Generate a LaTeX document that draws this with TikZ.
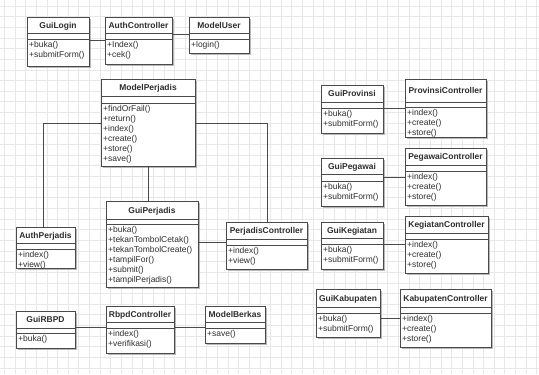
\documentclass[tikz,border=0pt]{standalone}
\usepackage{fontspec}
\setmainfont{Liberation Sans}
\definecolor{gridc}{HTML}{E8E8E8}
\definecolor{edgec}{HTML}{4A4A4A}
\definecolor{textc}{HTML}{2E2E2E}
\definecolor{shadowc}{HTML}{B8B8B8}
\tikzset{
  gridline/.style={draw=gridc, line width=0.8bp},
  classbox/.style={draw=edgec, fill=white, line width=0.9bp, inner sep=0pt, anchor=north west},
  sepline/.style={draw=edgec, line width=0.9bp},
  assoc/.style={draw=edgec, line width=0.9bp},
  classtitle/.style={font=\fontsize{8.5}{10}\selectfont\bfseries, text=textc, inner sep=0pt, anchor=base},
  member/.style={font=\fontsize{8.5}{10}\selectfont, text=textc, inner sep=0pt, anchor=base west},
}
% \umlclass{name}{x1}{y1}{x2}{y2}{header bottom}{attribute bottom}{title}{operations}
\newcommand\umlclass[9]{%
  \fill[shadowc] (#2+1.5,#3+1.5) rectangle (#4+1.5,#5+1.5);
  \node[classbox, minimum width={(#4-#2)*1bp}, minimum height={(#5-#3)*1bp}] (#1) at (#2,#3) {};
  \draw[sepline] (#2,#6) -- (#4,#6);
  \draw[sepline] (#2,#7) -- (#4,#7);
  \node[classtitle] at ({(#2+#4)/2},{(#3+#6)/2+3}) {#8};
  \foreach \m [count=\i from 0] in {#9}
    \node[member] at (#2+2,{#7+8.8+10*\i}) {\m};
}
\begin{document}
\begin{tikzpicture}[x=1bp,y=-1bp]
\useasboundingbox (0,0) rectangle (539,374);
\fill[white] (0,0) rectangle (539,374);
% background grid
\foreach \k in {0,...,50}
  \draw[gridline] ({4.3+10.65*\k},0) -- ++(0,374);
\foreach \k in {0,...,35}
  \draw[gridline] (0,{6+10.65*\k}) -- ++(539,0);

% login group
\umlclass{GuiLogin}{27}{17}{89}{66}{33}{39}{GuiLogin}{+buka(),+submitForm()}
\umlclass{AuthController}{105}{17}{172}{64}{33}{39}{AuthController}{+Index(),+cek()}
\umlclass{ModelUser}{189}{17}{249}{53}{33}{39}{ModelUser}{+login()}

% perjadis group
\umlclass{ModelPerjadis}{101}{79}{195}{166}{96}{103}{ModelPerjadis}{+findOrFail(),+return(),+index(),+create(),+store(),+save()}
\umlclass{AuthPerjadis}{16}{227}{75}{268}{243}{249}{AuthPerjadis}{+index(),+view()}
\umlclass{GuiPerjadis}{106}{201}{198}{287}{219}{224}{GuiPerjadis}{+buka(),+tekanTombolCetak(),+tekanTombolCreate(),+tampilFor(),+submit(),+tampilPerjadis()}
\umlclass{PerjadisController}{226}{222}{307}{269}{239}{245}{PerjadisController}{+index(),+view()}

% rbpd group
\umlclass{GuiRBPD}{16}{311}{75}{348}{328}{333}{GuiRBPD}{+buka()}
\umlclass{RbpdController}{106}{306}{174}{353}{322}{328}{RbpdController}{+index(),+verifikasi()}
\umlclass{ModelBerkas}{205}{306}{265}{343}{322}{328}{ModelBerkas}{+save()}

% master data group
\umlclass{GuiProvinsi}{321}{85}{383}{133}{102}{108}{GuiProvinsi}{+buka(),+submitForm()}
\umlclass{ProvinsiController}{405}{79}{486}{137}{102}{107}{ProvinsiController}{+index(),+create(),+store()}
\umlclass{GuiPegawai}{321}{158}{383}{206}{174}{181}{GuiPegawai}{+buka(),+submitForm()}
\umlclass{PegawaiController}{405}{148}{486}{205}{165}{171}{PegawaiController}{+index(),+create(),+store()}
\umlclass{GuiKegiatan}{321}{222}{383}{269}{238}{244}{GuiKegiatan}{+buka(),+submitForm()}
\umlclass{KegiatanController}{405}{216}{488}{273}{233}{239}{KegiatanController}{+index(),+create(),+store()}
\umlclass{GuiKabupaten}{316}{289}{380}{337}{307}{313}{GuiKabupaten}{+buka(),+submitForm()}
\umlclass{KabupatenController}{400}{289}{491}{347}{307}{313}{KabupatenController}{+index(),+create(),+store()}

% associations
\draw[assoc] (GuiLogin.east |- 0,40) -- (AuthController.west |- 0,40);
\draw[assoc] (AuthController.east |- 0,34) -- (ModelUser.west |- 0,34);
\draw[assoc] (ModelPerjadis.west |- 0,123) -| (AuthPerjadis.north -| 43,0);
\draw[assoc] (ModelPerjadis.east |- 0,123) -| (PerjadisController.north);
\draw[assoc] (ModelPerjadis.south -| 148,0) -- (GuiPerjadis.north -| 148,0);
\draw[assoc] (GuiPerjadis.east |- 0,242) -- (PerjadisController.west |- 0,242);
\draw[assoc] (GuiRBPD.east |- 0,327) -- (RbpdController.west |- 0,327);
\draw[assoc] (RbpdController.east |- 0,327) -- (ModelBerkas.west |- 0,327);
\draw[assoc] (GuiProvinsi.east |- 0,108) -- (ProvinsiController.west |- 0,108);
\draw[assoc] (GuiPegawai.east |- 0,177) -- (PegawaiController.west |- 0,177);
\draw[assoc] (GuiKegiatan.east |- 0,244) -- (KegiatanController.west |- 0,244);
\draw[assoc] (GuiKabupaten.east |- 0,318) -- (KabupatenController.west |- 0,318);
\end{tikzpicture}
\end{document}
